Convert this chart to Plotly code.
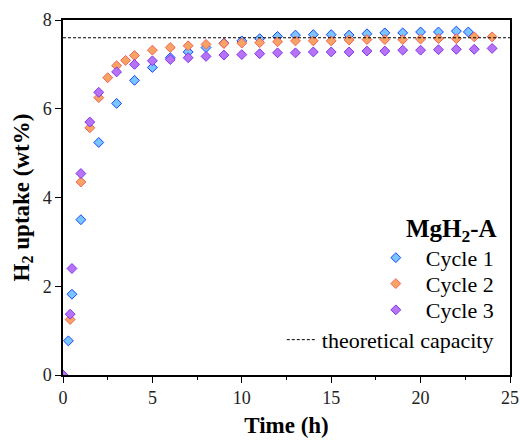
import plotly.graph_objects as go

# ---- data ----
t_cycle1 = [0, 0.3, 0.5, 1, 2, 3, 4, 5, 6, 7, 8, 9, 10, 11, 12, 13, 14, 15, 16, 17, 18, 19, 20, 21, 22, 22.67]
u_cycle1 = [0, 0.77, 1.82, 3.50, 5.24, 6.12, 6.64, 6.93, 7.15, 7.28, 7.38, 7.48, 7.53, 7.58, 7.63, 7.66,
            7.67, 7.67, 7.66, 7.69, 7.71, 7.71, 7.73, 7.73, 7.75, 7.73]

t_cycle2 = [0, 0.4, 1, 1.5, 2, 2.5, 3, 3.5, 4, 5, 6, 7, 8, 9, 10, 11, 12, 13, 14, 15, 16, 17, 18, 19, 20,
            21, 22, 23, 24]
u_cycle2 = [0, 1.25, 4.35, 5.57, 6.25, 6.70, 6.97, 7.09, 7.20, 7.32, 7.38, 7.42, 7.45, 7.47, 7.48, 7.49,
            7.51, 7.53, 7.53, 7.53, 7.55, 7.56, 7.56, 7.56, 7.57, 7.58, 7.58, 7.62, 7.62]

t_cycle3 = [0, 0.4, 0.5, 1, 1.5, 2, 3, 4, 5, 6, 7, 8, 9, 10, 11, 12, 13, 14, 15, 16, 17, 18, 19, 20, 21,
            22, 23, 24]
u_cycle3 = [0, 1.37, 2.40, 4.54, 5.70, 6.37, 6.83, 7.00, 7.08, 7.11, 7.15, 7.18, 7.21, 7.22, 7.24, 7.26,
            7.26, 7.28, 7.28, 7.28, 7.30, 7.30, 7.32, 7.32, 7.33, 7.34, 7.34, 7.36]

theory_x = [0, 25]
theory_y = [7.6, 7.6]

x_ticks = [0, 5, 10, 15, 20, 25]
y_ticks = [0, 2, 4, 6, 8]

FONT = "Liberation Serif, Times New Roman, serif"

fig = go.Figure()

styles = [
    ("Cycle 1", t_cycle1, u_cycle1, "#79c5ff", "#1a45ff", "legend", 0.330),
    ("Cycle 2", t_cycle2, u_cycle2, "#f6a363", "#f5625a", "legend3", 0.257),
    ("Cycle 3", t_cycle3, u_cycle3, "#b673f6", "#8336ec", "legend4", 0.183),
]
for name, xs, ys, fill, edge, lg, _ in styles:
    fig.add_trace(go.Scatter(
        x=xs, y=ys, mode="markers", name=name,
        marker=dict(symbol="diamond", size=7.6, color=fill, line=dict(color=edge, width=1)),
        legend=lg,
    ))

fig.add_trace(go.Scatter(
    x=theory_x, y=theory_y, mode="lines", name="theoretical capacity",
    line=dict(color="black", width=1, dash="3px,2px"),
    legend="legend2",
))

axis_common = dict(
    showline=True, linecolor="black", linewidth=1.5, mirror=True,
    ticks="outside", ticklen=6, tickwidth=1.2, tickcolor="black",
    showgrid=False, zeroline=False, automargin=False,
    tickfont=dict(family=FONT, size=18, color="#222"),
)

fig.update_xaxes(
    range=[0, 25], tickvals=x_ticks, **axis_common,
    minor=dict(ticks="outside", ticklen=3, tickwidth=1, tickcolor="black", dtick=2.5, showgrid=False),
    title=dict(text="<b>Time (h)</b>", font=dict(family=FONT, size=23, color="black"), standoff=10),
)
fig.update_yaxes(
    range=[0, 8], tickvals=y_ticks, **axis_common,
    title=dict(text="<b>H<sub>2</sub> uptake (wt%)</b>", font=dict(family=FONT, size=23, color="black"),
               standoff=7),
)

legend_x = 0.975
legends = {}
for name, xs, ys, fill, edge, lg, ypos in styles:
    legends[lg] = dict(
        x=legend_x, xanchor="right", y=ypos, yanchor="middle",
        bgcolor="rgba(0,0,0,0)", itemwidth=50,
        font=dict(family=FONT, size=22, color="black"),
    )
legends["legend2"] = dict(
    x=legend_x, xanchor="right", y=0.099, yanchor="middle",
    bgcolor="rgba(0,0,0,0)",
    font=dict(family=FONT, size=22, color="black"),
)

fig.update_layout(
    width=520, height=440,
    margin=dict(l=63, r=10, t=20, b=65, autoexpand=False),
    plot_bgcolor="white", paper_bgcolor="white",
    showlegend=True,
    **legends,
    annotations=[dict(
        text="<b>MgH<sub>2</sub>-A</b>", xref="paper", yref="paper",
        x=0.975, y=0.407, xanchor="right", yanchor="middle", showarrow=False,
        font=dict(family=FONT, size=25, color="black"),
    )],
)

# remove the default 8px page margin so the 520x440 figure fills the window exactly
fig.write_html(
    "out.html",
    config={"displayModeBar": False},
    post_script="document.body.style.margin='0px'; document.body.style.overflow='hidden';",
)
